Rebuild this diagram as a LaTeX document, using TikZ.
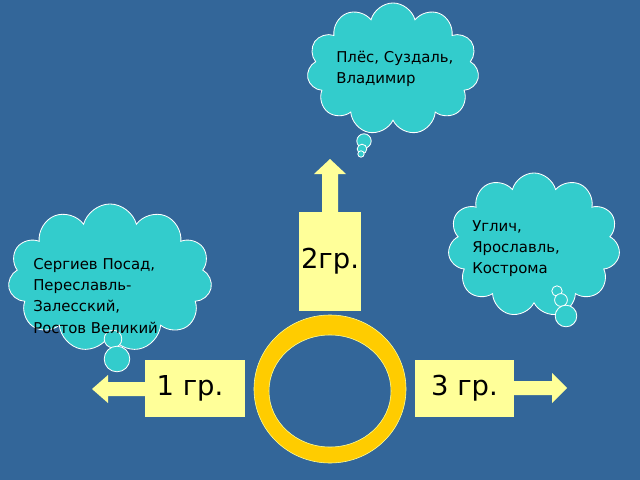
\documentclass[tikz,border=0pt]{standalone}
\usepackage{fontspec}
\setmainfont{DejaVu Sans}
\usetikzlibrary{shapes.symbols}
\definecolor{bgblue}{RGB}{51,102,153}
\definecolor{boxyellow}{RGB}{255,255,153}
\definecolor{ringyellow}{RGB}{255,204,0}
\definecolor{cloudcyan}{RGB}{51,204,204}
\tikzset{
  grbox/.style={fill=boxyellow, inner sep=0pt, font=\fontsize{19.5}{23}\selectfont},
  towncloud/.style={cloud, cloud puffs=11, cloud ignores aspect, fill=cloudcyan, draw=white, line width=0.6pt},
  towntext/.style={align=left, anchor=west, inner sep=0pt, font=\fontsize{10.6}{15}\selectfont},
  bubble/.style={fill=cloudcyan, draw=white, line width=0.6pt}
}
\begin{document}
\begin{tikzpicture}[x=0.025cm, y=-0.025cm]
        % background
        \fill[bgblue] (0, 0) rectangle (640, 480);
        \useasboundingbox (0, 0) rectangle (640, 480);
        % clouds
        \node[towncloud, minimum width=4.3cm, minimum height=3.3cm] (plescloud) at (393, 69) {};
        \node[towncloud, minimum width=5.1cm, minimum height=3.7cm] (sergcloud) at (110, 278) {};
        \node[towncloud, minimum width=4.3cm, minimum height=3.6cm] (uglcloud) at (534, 245) {};
        \draw[bubble] (364, 141) circle (0.18cm);
        \draw[bubble] (362, 149) circle (0.12cm);
        \draw[bubble] (361, 154) circle (0.08cm);
        \draw[bubble] (113, 339) circle (0.22cm);
        \draw[bubble] (117, 359) circle (0.32cm);
        \draw[bubble] (557, 291) circle (0.13cm);
        \draw[bubble] (561, 300) circle (0.16cm);
        \draw[bubble] (566, 316) circle (0.27cm);
        \node[towntext] (plestext) at (336, 69) {Плёс, Суздаль,\\Владимир};
        \node[towntext] (sergtext) at (33, 296) {Сергиев Посад,\\Переславль-\\Залесский,\\Ростов Великий};
        \node[towntext] (ugltext) at (472, 249) {Углич,\\Ярославль,\\Кострома};
        % arrows
        \fill[boxyellow] (145, 382) -- (108, 382) -- (108, 375) -- (92, 389) -- (108, 403) -- (108, 396) -- (145, 396) -- cycle;
        \fill[boxyellow] (514, 381) -- (552, 381) -- (552, 373) -- (567, 388) -- (552, 403) -- (552, 395) -- (514, 395) -- cycle;
        \fill[boxyellow] (322, 212) -- (322, 174) -- (314, 174) -- (330, 159) -- (346, 174) -- (338, 174) -- (338, 212) -- cycle;
        % boxes
        \node[grbox, minimum width=2.5cm, minimum height=1.425cm] (gr1) at (195, 388.5) {\hspace*{-0.25cm}1 гр.};
        \node[grbox, minimum width=1.55cm, minimum height=2.475cm] (gr2) at (330, 261.5) {2гр.};
        \node[grbox, minimum width=2.475cm, minimum height=1.425cm] (gr3) at (464.5, 388.5) {3 гр.};
        % ring
        \fill[ringyellow, even odd rule] (330, 389) ellipse [x radius=1.9cm, y radius=1.85cm]
          (330, 391) ellipse [x radius=1.525cm, y radius=1.4cm];
        \draw[boxyellow, line width=0.4pt] (330, 389) ellipse [x radius=1.9cm, y radius=1.85cm];
        \draw[boxyellow, line width=0.4pt] (330, 391) ellipse [x radius=1.525cm, y radius=1.4cm];
\end{tikzpicture}
\end{document}
